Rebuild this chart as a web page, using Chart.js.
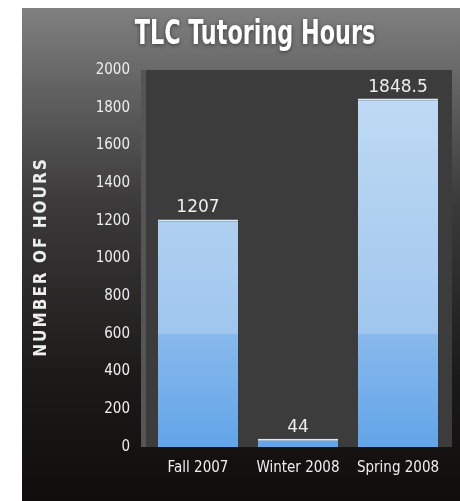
<!DOCTYPE html>
<html>
<head>
<meta charset="utf-8">
<script src="https://cdn.jsdelivr.net/npm/chart.js@4"></script>
<style>
  html, body { margin: 0; padding: 0; background: #ffffff; }
  #wrap { width: 460px; height: 501px; }
</style>
</head>
<body>
<div id="wrap"><canvas id="tlc-chart" width="460" height="501"></canvas></div>
<script>
const terms = ["Fall 2007", "Winter 2008", "Spring 2008"];
const hours = [1207, 44, 1848.5];
const hourLabels = ["1207", "44", "1848.5"];
const chartTitle = "TLC Tutoring Hours";
const yTitle = "NUMBER OF HOURS";

const cond = "'DejaVu Sans Condensed', sans-serif";

// dark panel behind everything, with the white margin at left/top
const panelBg = {
  id: "panelBg",
  beforeDraw(chart) {
    const ctx = chart.ctx;
    const g = ctx.createLinearGradient(0, 8, 0, 501);
    g.addColorStop(0, "#808080");
    g.addColorStop(0.12, "#6a6a6a");
    g.addColorStop(0.4, "#3b3939");
    g.addColorStop(0.75, "#1c1919");
    g.addColorStop(1, "#110d0d");
    ctx.save();
    ctx.fillStyle = g;
    ctx.fillRect(22, 8, 438, 493);

    // title, squeezed horizontally to look like a condensed face
    ctx.font = "bold 34px " + cond;
    ctx.fillStyle = "#ffffff";
    ctx.textAlign = "center";
    ctx.textBaseline = "alphabetic";
    ctx.shadowColor = "rgba(0,0,0,0.5)";
    ctx.shadowBlur = 4;
    ctx.shadowOffsetY = 1;
    ctx.translate(255, 44);
    ctx.scale(0.73, 1);
    ctx.fillText(chartTitle, 0, 0);
    ctx.restore();

    // rotated axis title with letter spacing
    ctx.save();
    ctx.font = "bold 17px " + cond;
    ctx.letterSpacing = "2px";
    ctx.fillStyle = "#eeeeee";
    ctx.textAlign = "center";
    ctx.textBaseline = "middle";
    ctx.translate(42, 257);
    ctx.rotate(-Math.PI / 2);
    ctx.fillText(yTitle, 0, 0);
    ctx.restore();
  },
  beforeDatasetsDraw(chart) {
    const { ctx, chartArea: a } = chart;
    ctx.save();
    ctx.fillStyle = "#3c3c3c";
    ctx.fillRect(a.left - 7, a.top, a.right - a.left + 11, a.bottom - a.top);
    ctx.fillStyle = "#555555";
    ctx.fillRect(a.left - 7, a.top, 5, a.bottom - a.top);
    ctx.restore();
  },
};

// value labels above bars
const barValues = {
  id: "barValues",
  afterDatasetsDraw(chart) {
    const ctx = chart.ctx;
    const meta = chart.getDatasetMeta(0);
    ctx.save();
    ctx.font = "17px 'DejaVu Sans', sans-serif";
    ctx.fillStyle = "#eeeeee";
    ctx.textAlign = "center";
    ctx.textBaseline = "alphabetic";
    meta.data.forEach((bar, i) => {
      ctx.fillText(hourLabels[i], bar.x, bar.y - 7);
    });
    ctx.restore();
  },
};

function barFill(context) {
  const chart = context.chart;
  const a = chart.chartArea;
  if (!a) return "#8abaec";
  const y = chart.scales.y;
  const step = (y.getPixelForValue(600) - a.top) / (a.bottom - a.top);
  const g = chart.ctx.createLinearGradient(0, a.top, 0, a.bottom);
  g.addColorStop(0, "#c2dcf4");
  g.addColorStop(step, "#a0c6ee");
  g.addColorStop(step + 0.001, "#88b9ec");
  g.addColorStop(1, "#62a5e8");
  return g;
}

new Chart(document.getElementById("tlc-chart"), {
  type: "bar",
  data: {
    labels: terms,
    datasets: [
      {
        data: hours,
        backgroundColor: barFill,
        borderColor: "#dcebfa",
        borderWidth: { left: 0, right: 0, top: 2, bottom: 0 },
        barPercentage: 0.8,
        categoryPercentage: 1,
      },
    ],
  },
  options: {
    responsive: false,
    animation: false,
    layout: { padding: { left: 22, right: 12, top: 70, bottom: 0 } },
    plugins: {
      legend: { display: false },
      tooltip: { enabled: false },
      title: { display: false },
    },
    scales: {
      x: {
        grid: { display: false, drawTicks: false },
        border: { display: false },
        ticks: {
          color: "#eeeeee",
          font: { family: cond, size: 15 },
          padding: 12,
          maxRotation: 0,
        },
        afterFit(scale) {
          scale.height = 54;
        },
      },
      y: {
        min: 0,
        max: 2000,
        grid: { display: false, drawTicks: false },
        border: { display: false },
        ticks: {
          stepSize: 200,
          color: "#eeeeee",
          font: { family: cond, size: 15 },
          padding: 18,
          callback: (v) => String(v),
        },
        afterFit(scale) {
          scale.width = 126;
        },
      },
    },
  },
  plugins: [panelBg, barValues],
});
</script>
</body>
</html>
